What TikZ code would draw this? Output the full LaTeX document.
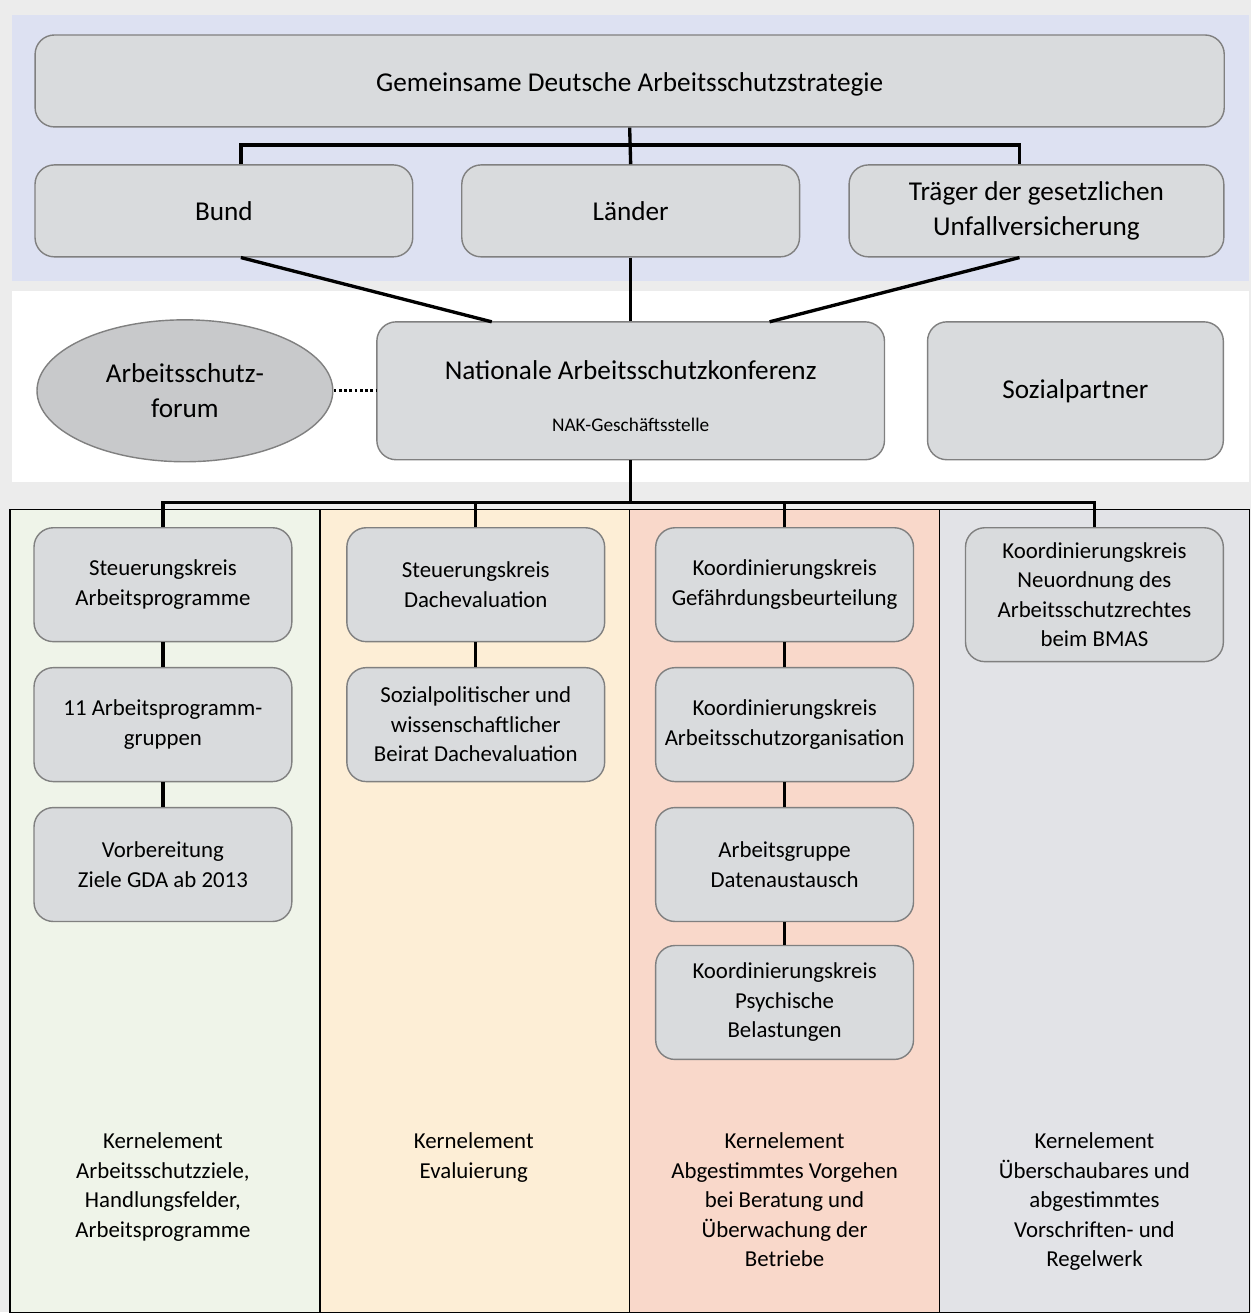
\documentclass[tikz,border=0pt]{standalone}
\usepackage{fontspec}
\setmainfont{Carlito}
\usepackage{tikz}
\usetikzlibrary{shapes.geometric}
\definecolor{boxfill}{RGB}{217,219,221}
\definecolor{boxline}{RGB}{128,128,128}
\definecolor{ellfill}{RGB}{200,201,203}
\definecolor{outerbg}{RGB}{236,236,236}
\definecolor{topbg}{RGB}{221,225,242}
\definecolor{colgreen}{RGB}{239,244,233}
\definecolor{colorange}{RGB}{253,238,214}
\definecolor{colsalmon}{RGB}{249,216,202}
\definecolor{colgray}{RGB}{226,227,231}
\tikzstyle{box}=[fill=boxfill, draw=boxline, line width=0.8pt, rounded corners=11pt, align=center, inner sep=0pt]
\tikzstyle{big box}=[box, font=\fontsize{15.5}{20}\selectfont]
\tikzstyle{col box}=[box, minimum width=5.16cm, minimum height=2.28cm, font=\fontsize{13}{16.8}\selectfont]
\tikzstyle{kern}=[align=center, anchor=north, inner sep=0pt, font=\fontsize{13}{16.8}\selectfont]
\tikzstyle{link}=[line width=1.9pt, black]
\pgfdeclarelayer{bglayer}
\pgfdeclarelayer{nodelayer}
\pgfdeclarelayer{edgelayer}
\pgfsetlayers{bglayer,nodelayer,edgelayer,main}

\begin{document}
\begin{tikzpicture}[x=0.02cm, y=-0.02cm]
	\begin{pgfonlayer}{bglayer}
		\fill [outerbg] (0, 0) rectangle (1252, 1313);
		\fill [topbg] (12, 15) rectangle (1250, 281);
		\fill [white] (12, 291) rectangle (1250, 482);
		\filldraw [fill=colgreen, draw=black, line width=0.8pt] (10, 510) rectangle (320, 1313);
		\filldraw [fill=colorange, draw=black, line width=0.8pt] (320, 510) rectangle (630, 1313);
		\filldraw [fill=colsalmon, draw=black, line width=0.8pt] (630, 510) rectangle (940, 1313);
		\filldraw [fill=colgray, draw=black, line width=0.8pt] (940, 510) rectangle (1250, 1313);
	\end{pgfonlayer}
	\begin{pgfonlayer}{nodelayer}
		\node [style=big box, minimum width=23.8cm, minimum height=1.84cm] (0) at (630, 81) {};
		\node [font=\fontsize{15.5}{20}\selectfont] (0a) at (630, 84) {Gemeinsame Deutsche Arbeitsschutzstrategie};
		\node [style=big box, minimum width=7.56cm, minimum height=1.84cm] (1) at (224, 211) {Bund};
		\node [style=big box, minimum width=6.76cm, minimum height=1.84cm] (2) at (631, 211) {Länder};
		\node [style=big box, minimum width=7.5cm, minimum height=1.84cm] (3) at (1037, 211) {Träger der gesetzlichen\\Unfallversicherung};
		\node [style=box, minimum width=10.16cm, minimum height=2.76cm] (4) at (631, 391) {};
		\node [font=\fontsize{15.5}{20}\selectfont] (4a) at (631, 370) {Nationale Arbeitsschutzkonferenz};
		\node [font=\fontsize{11}{14}\selectfont] (4b) at (631, 425) {NAK-Geschäftsstelle};
		\node [fill=ellfill, draw=boxline, line width=0.8pt, shape=ellipse, minimum width=5.92cm, minimum height=2.84cm, align=center, inner sep=0pt, font=\fontsize{15.5}{20}\selectfont] (5) at (185, 391) {Arbeitsschutz-\\forum};
		\node [style=big box, minimum width=5.92cm, minimum height=2.76cm] (6) at (1076, 391) {Sozialpartner};
		% Spalte 1
		\node [style=col box] (7) at (163, 585) {Steuerungskreis\\Arbeitsprogramme};
		\node [style=col box] (8) at (163, 725) {11 Arbeitsprogramm-\\gruppen};
		\node [style=col box] (9) at (163, 865) {Vorbereitung\\Ziele GDA ab 2013};
		% Spalte 2
		\node [style=col box] (10) at (476, 585) {Steuerungskreis\\Dachevaluation};
		\node [style=col box] (11) at (476, 725) {Sozialpolitischer und\\wissenschaftlicher\\Beirat Dachevaluation};
		% Spalte 3
		\node [style=col box] (12) at (785, 585) {Koordinierungskreis\\Gefährdungsbeurteilung};
		\node [style=col box] (13) at (785, 725) {Koordinierungskreis\\Arbeitsschutzorganisation};
		\node [style=col box] (14) at (785, 865) {Arbeitsgruppe\\Datenaustausch};
		\node [style=col box] (15) at (785, 1003) {Koordinierungskreis\\Psychische\\Belastungen};
		% Spalte 4
		\node [style=col box, minimum height=2.68cm] (16) at (1095, 595) {Koordinierungskreis\\Neuordnung des\\Arbeitsschutzrechtes\\beim BMAS};
		% Kernelemente
		\node [style=kern] (17) at (163, 1133) {Kernelement\\Arbeitsschutzziele,\\Handlungsfelder,\\Arbeitsprogramme};
		\node [style=kern] (18) at (474, 1133) {Kernelement\\Evaluierung};
		\node [style=kern] (19) at (785, 1133) {Kernelement\\Abgestimmtes Vorgehen\\bei Beratung und\\Überwachung der\\Betriebe};
		\node [style=kern] (20) at (1095, 1133) {Kernelement\\Überschaubares und\\abgestimmtes\\Vorschriften- und\\Regelwerk};
		\coordinate (c1) at (241, 145);
		\coordinate (c2) at (1020, 145);
		\coordinate (c3) at (492, 322);
		\coordinate (c4) at (770, 322);
		\coordinate (c5) at (163, 503);
		\coordinate (c6) at (1095, 503);
	\end{pgfonlayer}
	\begin{pgfonlayer}{edgelayer}
		\draw [style=link] (0.south) -- (2.north);
		\draw [style=link] (c1 |- 1.north) -- (c1) -- (c2) -- (c2 |- 3.north);
		\draw [style=link] (c1 |- 1.south) -- (c3);
		\draw [style=link] (2.south) -- (4.north);
		\draw [style=link] (c2 |- 3.south) -- (c4);
		\draw [line width=1.9pt, dash pattern=on 1.6pt off 1.4pt] (5.east) -- (4.west);
		\draw [style=link] (4.south) -- (4.south |- c5);
		\draw [style=link] (c5 |- 7.north) -- (c5) -- (c6) -- (c6 |- 16.north);
		\draw [style=link] (10.north) -- (10.north |- c5);
		\draw [style=link] (12.north) -- (12.north |- c5);
		\draw [style=link] (7) -- (8);
		\draw [style=link] (8) -- (9);
		\draw [style=link] (10) -- (11);
		\draw [style=link] (12) -- (13);
		\draw [style=link] (13) -- (14);
		\draw [style=link] (14) -- (15);
	\end{pgfonlayer}
\end{tikzpicture}
\end{document}
